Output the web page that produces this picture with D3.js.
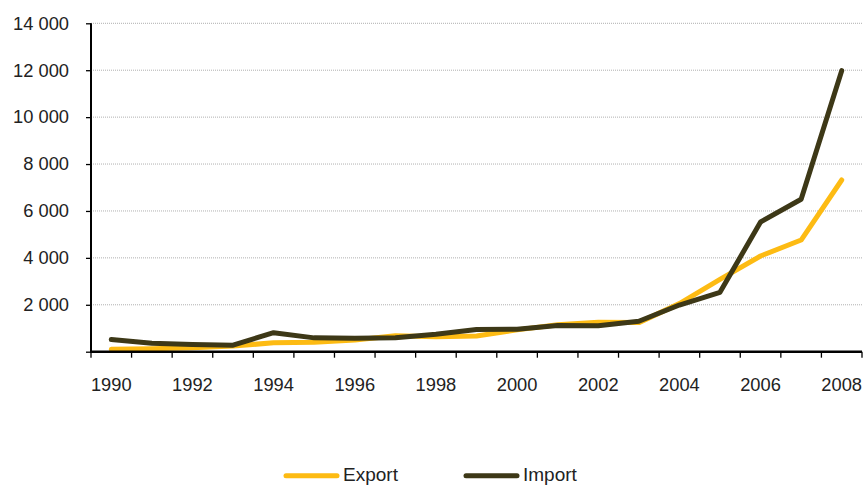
<!DOCTYPE html>
<html>
<head>
<meta charset="utf-8">
<script src="https://cdn.jsdelivr.net/npm/d3@7"></script>
<style>
  html, body { margin: 0; padding: 0; background: #fff; }
  svg { display: block; font-family: Arial, "Liberation Sans", sans-serif; }
</style>
</head>
<body>
<svg id="chart" width="864" height="485"></svg>
<script>
// Years on the category axis
const years = [1990, 1991, 1992, 1993, 1994, 1995, 1996, 1997, 1998, 1999,
               2000, 2001, 2002, 2003, 2004, 2005, 2006, 2007, 2008];
// Series values
const exportValues = [100, 130, 170, 240, 380, 400, 500, 680, 640, 670,
                      930, 1150, 1260, 1240, 2050, 3080, 4080, 4760, 7320];
const importValues = [520, 360, 310, 280, 810, 590, 570, 590, 740, 950,
                      960, 1120, 1110, 1300, 1990, 2530, 5530, 6500, 11980];
// Axis ticks (the zero tick carries no label)
const yTicks = [0, 2000, 4000, 6000, 8000, 10000, 12000, 14000];
const xLabelYears = [1990, 1992, 1994, 1996, 1998, 2000, 2002, 2004, 2006, 2008];

const seriesList = [
  { name: "Export", values: exportValues, color: "#FDBB13" },
  { name: "Import", values: importValues, color: "#3D3817" }
];

const svg = d3.select("#chart");
const plotLeft = 91, plotRight = 862, plotTop = 23.3, plotBottom = 351.7;

const x = d3.scaleBand().domain(years).range([plotLeft, plotRight]).paddingInner(0).paddingOuter(0);
const y = d3.scaleLinear().domain([0, 14000]).range([plotBottom, plotTop]);

const fmt = v => v === 0 ? "" : d3.format(",")(v).replace(/,/g, " ");

// Horizontal dotted gridlines
svg.append("g")
  .selectAll("line")
  .data(yTicks.filter(d => d > 0))
  .join("line")
  .attr("x1", plotLeft).attr("x2", plotRight)
  .attr("y1", d => y(d)).attr("y2", d => y(d))
  .attr("stroke", "#b0b0b0")
  .attr("stroke-width", 1)
  .attr("stroke-dasharray", "1,1");

// Lines
const line = d3.line()
  .x((d, i) => x(years[i]) + x.bandwidth() / 2)
  .y(d => y(d));

svg.append("g")
  .selectAll("path")
  .data(seriesList)
  .join("path")
  .attr("d", s => line(s.values))
  .attr("fill", "none")
  .attr("stroke", s => s.color)
  .attr("stroke-width", 5)
  .attr("stroke-linejoin", "round")
  .attr("stroke-linecap", "round");

// Y axis
const yAxis = d3.axisLeft(y).tickValues(yTicks).tickSize(5).tickPadding(17).tickFormat(fmt);
const gy = svg.append("g").attr("transform", `translate(${plotLeft},0)`).call(yAxis);
gy.select(".domain").attr("stroke", "#000").attr("stroke-width", 2).attr("d", `M0,${plotBottom}V${plotTop}`);
gy.selectAll(".tick line").attr("stroke", "#000").attr("stroke-width", 1.3);
gy.selectAll(".tick text").attr("font-size", 18.3).attr("fill", "#222")
  .attr("font-family", "Arial, 'Liberation Sans', sans-serif");

// X axis: tick marks at category boundaries, labels every second year
const gx = svg.append("g").attr("transform", `translate(0,${plotBottom})`);
gx.append("line")
  .attr("x1", plotLeft - 1).attr("x2", plotRight)
  .attr("stroke", "#000").attr("stroke-width", 2.5);
const boundaries = years.map(yr => x(yr)).concat([plotRight]);
gx.selectAll("line.tk")
  .data(boundaries)
  .join("line")
  .attr("class", "tk")
  .attr("x1", d => d).attr("x2", d => d)
  .attr("y1", 0).attr("y2", 6)
  .attr("stroke", "#000").attr("stroke-width", 1.3);
gx.selectAll("text")
  .data(xLabelYears)
  .join("text")
  .attr("x", d => x(d) + x.bandwidth() / 2)
  .attr("y", 39.8)
  .attr("text-anchor", "middle")
  .attr("font-size", 18.3)
  .attr("fill", "#222")
  .text(d => d);

// Legend
const legend = svg.append("g");
const legendItems = [
  { s: seriesList[0], x0: 286 },
  { s: seriesList[1], x0: 466 }
];
legendItems.forEach(it => {
  legend.append("line")
    .attr("x1", it.x0).attr("x2", it.x0 + 51)
    .attr("y1", 475.7).attr("y2", 475.7)
    .attr("stroke", it.s.color).attr("stroke-width", 5)
    .attr("stroke-linecap", "round");
  legend.append("text")
    .attr("x", it.x0 + 57).attr("y", 481)
    .attr("font-size", 19).attr("fill", "#222")
    .text(it.s.name);
});
</script>
</body>
</html>
